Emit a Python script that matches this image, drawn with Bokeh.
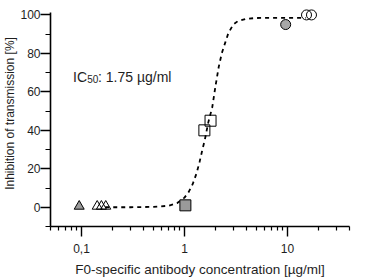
from bokeh.plotting import figure
from bokeh.models import Range1d, FixedTicker, Label
from bokeh.embed import file_html
from bokeh.resources import INLINE

# fitted curve
curve_x = [0.17, 0.3, 0.5, 0.7, 0.85, 1.0, 1.1, 1.2, 1.31, 1.4, 1.5, 1.575, 1.7, 1.86,
           2.0, 2.15, 2.3, 2.5, 2.66, 2.97, 3.3, 4.0, 5.0, 7.0, 10.0, 15.0]
curve_y = [0.0, 0.0, 0.2, 0.8, 2.2, 5.0, 8.0, 12.0, 17.7, 23.5, 30.5, 35.0, 44.0, 52.0,
           63.0, 73.0, 80.0, 86.0, 90.4, 95.0, 96.8, 98.0, 98.4, 98.5, 98.5, 98.5]

# data points
tri_gray_x = [0.095]
tri_gray_y = [0.5]
tri_open_x = [0.142, 0.156, 0.172]
tri_open_y = [0.5, 0.5, 0.5]
sq_gray_x = [1.02]
sq_gray_y = [1.0]
sq_open_x = [1.56, 1.79]
sq_open_y = [40.0, 45.0]
circ_gray_x = [9.6]
circ_gray_y = [95.0]
circ_open_x = [15.3, 17.1]
circ_open_y = [100.0, 100.0]

x_major = [0.1, 1, 10]
x_minor = [0.05, 0.06, 0.07, 0.08, 0.09, 0.2, 0.3, 0.4, 0.5, 0.6, 0.7, 0.8, 0.9,
           2, 3, 4, 5, 6, 7, 8, 9, 20, 30, 40]
x_labels = {0.1: "0,1", 1: "1", 10: "10"}
y_major = [0, 20, 40, 60, 80, 100]
y_minor = [-10, 10, 30, 50, 70, 90]

x_title = "F0-specific antibody concentration [µg/ml]"
y_title = "Inhibition of transmission [%]"

FONT = "Liberation Sans"
TXT = "#1e1e1e"

p = figure(width=365, height=279, x_axis_type="log", output_backend="svg",
           toolbar_location=None, x_range=Range1d(0.05, 40), y_range=Range1d(-10, 107.5),
           min_border_left=50, min_border_right=16, min_border_top=0, min_border_bottom=52)
p.outline_line_color = None
p.grid.grid_line_color = None
p.background_fill_color = "white"
p.border_fill_color = "white"

p.line(curve_x, curve_y, line_color="black", line_width=1.8, line_dash="4 4")

p.scatter(tri_gray_x, tri_gray_y, marker="triangle", size=10, fill_color="#9a9a9a",
          line_color="black", line_width=1)
p.scatter(tri_open_x, tri_open_y, marker="triangle", size=10, fill_alpha=0,
          line_color="black", line_width=1)
p.scatter(sq_gray_x, sq_gray_y, marker="square", size=11, fill_color="#9a9a9a",
          line_color="black", line_width=1)
p.scatter(sq_open_x, sq_open_y, marker="square", size=11, fill_alpha=0,
          line_color="black", line_width=1)
p.scatter(circ_gray_x, circ_gray_y, marker="circle", size=10, fill_color="#a8a8a8",
          line_color="black", line_width=1)
p.scatter(circ_open_x, circ_open_y, marker="circle", size=10, fill_alpha=0,
          line_color="black", line_width=1)

# axes
xa = p.xaxis[0]
xa.ticker = FixedTicker(ticks=x_major, minor_ticks=x_minor)
xa.major_label_overrides = x_labels
xa.axis_label = x_title
ya = p.yaxis[0]
ya.ticker = FixedTicker(ticks=y_major, minor_ticks=y_minor)
ya.bounds = (-10, 101.5)
ya.axis_label = y_title

for ax in (xa, ya):
    ax.axis_line_color = "black"
    ax.axis_line_width = 1.6
    ax.major_tick_line_color = "black"
    ax.major_tick_line_width = 1.4
    ax.minor_tick_line_color = "black"
    ax.minor_tick_line_width = 1.2
    ax.major_tick_in = 0
    ax.minor_tick_in = 0
    ax.major_label_text_font = FONT
    ax.major_label_text_font_size = "12px"
    ax.major_label_text_color = TXT
    ax.axis_label_text_font = FONT
    ax.axis_label_text_font_style = "normal"
    ax.axis_label_text_color = TXT

xa.major_tick_out = 10
xa.minor_tick_out = 4
xa.major_label_standoff = 7
xa.axis_label_standoff = 6
xa.axis_label_text_font_size = "13.5px"

ya.major_tick_out = 10
ya.minor_tick_out = 5
ya.major_label_standoff = 0
ya.axis_label_standoff = 0
ya.axis_label_text_font_size = "12px"

# IC50 annotation (screen units relative to the plot frame: left=50, bottom=227)
p.add_layout(Label(x=22.5, y=150, x_units="screen", y_units="screen",
                   text="IC", text_font=FONT, text_font_size="14px", text_color=TXT,
                   text_baseline="alphabetic"))
p.add_layout(Label(x=36.7, y=148, x_units="screen", y_units="screen",
                   text="50", text_font=FONT, text_font_size="10px", text_color=TXT,
                   text_baseline="alphabetic"))
p.add_layout(Label(x=47.5, y=150, x_units="screen", y_units="screen",
                   text=": 1.75 µg/ml", text_font=FONT, text_font_size="14px",
                   text_color=TXT, text_baseline="alphabetic"))

open("out.html", "w").write(file_html(p, INLINE))
